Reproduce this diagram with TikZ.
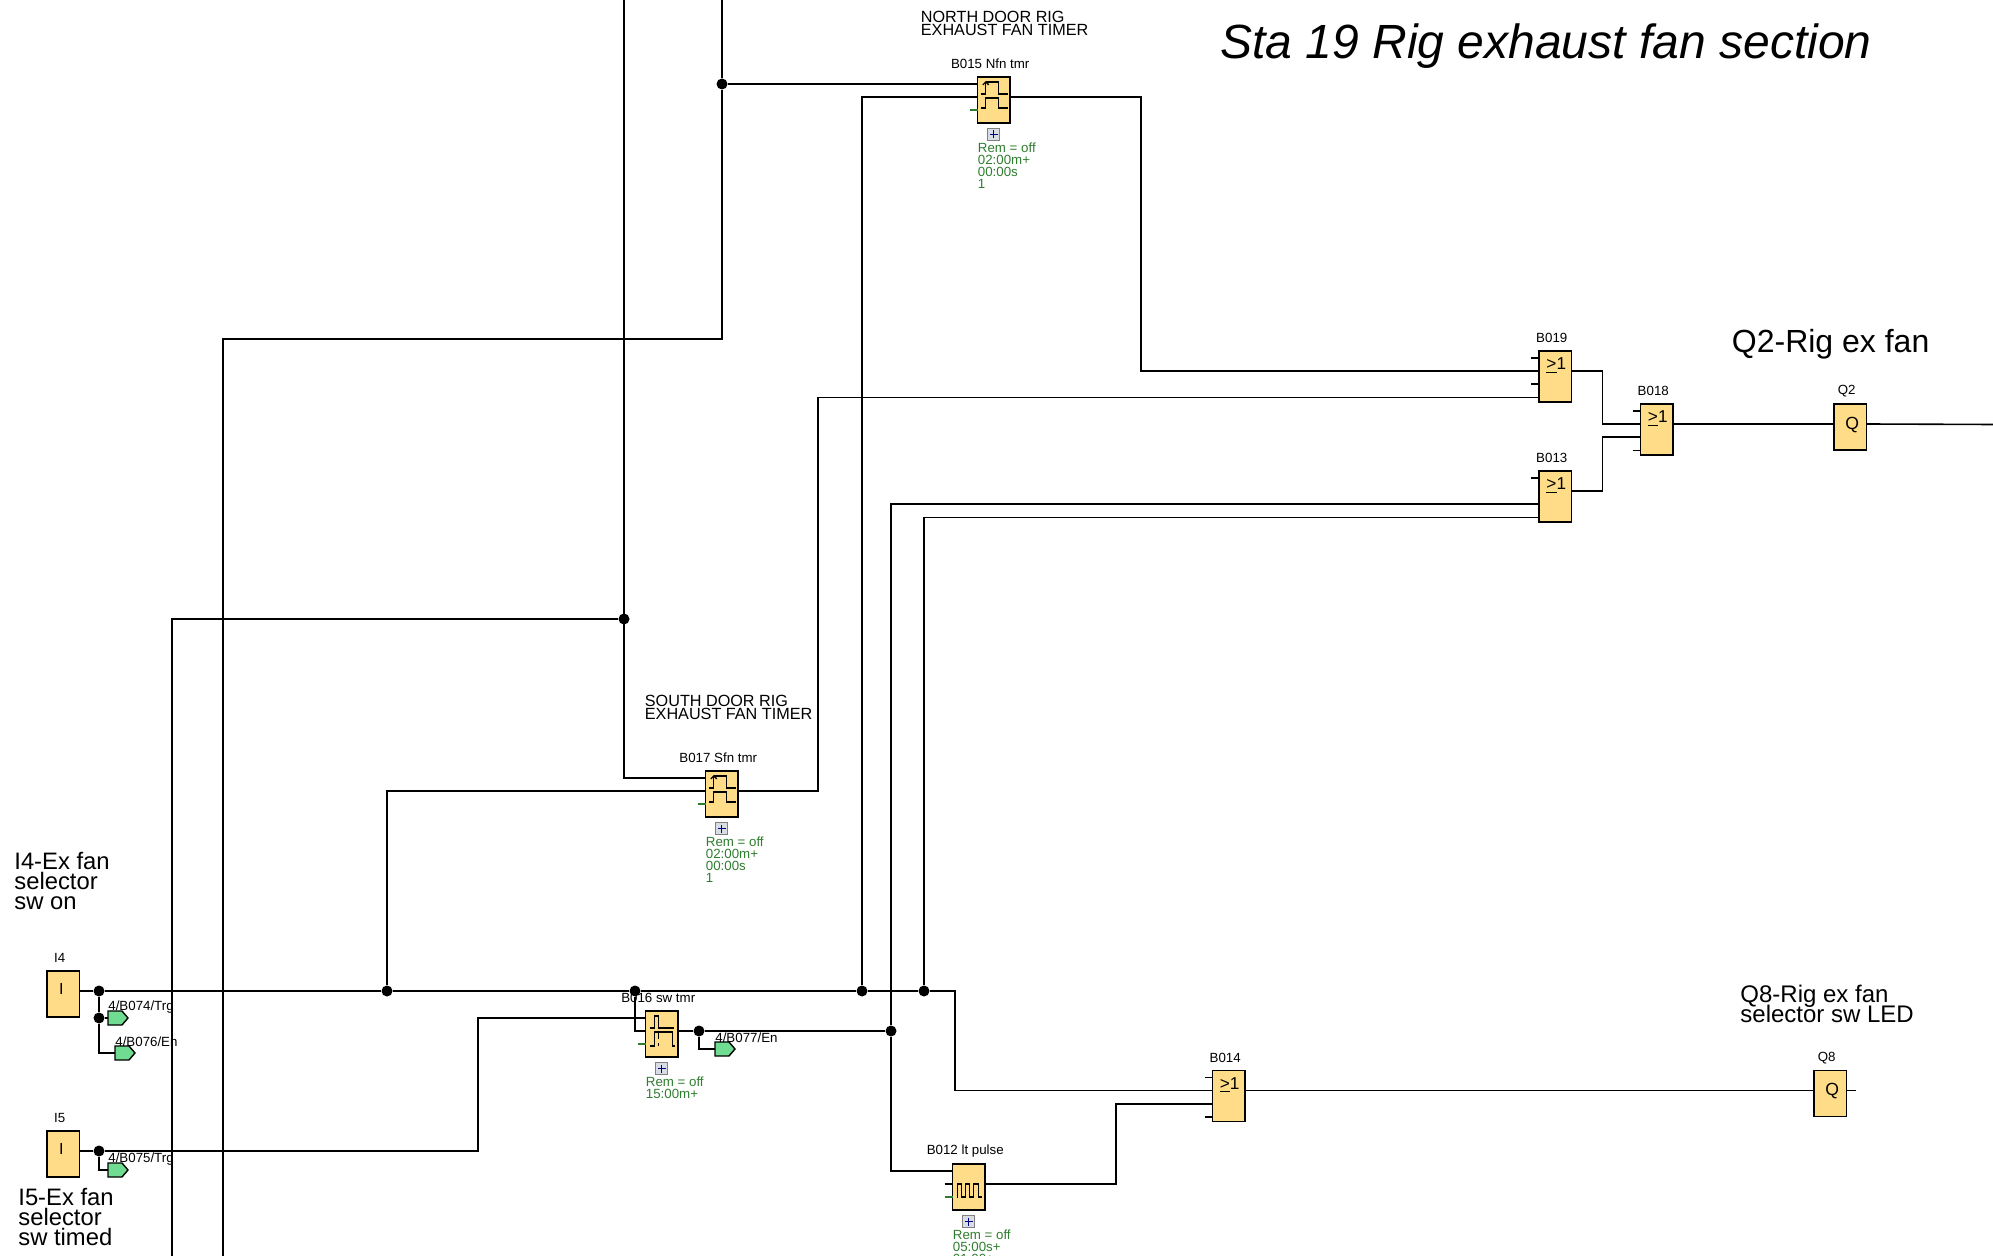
\documentclass[tikz,border=0pt]{standalone}
\usepackage{fontspec}
\setmainfont{Liberation Sans}
\usepackage{xcolor}
\usepackage{tikz}
\usetikzlibrary{calc,arrows.meta}

\definecolor{blockfill}{HTML}{FFDC87}
\definecolor{tagfill}{HTML}{6FDC92}
\definecolor{paramgreen}{HTML}{2E7D2E}
\definecolor{plusgray}{HTML}{D9DDE6}

% one block: name, left x, top y, height, title
\newcommand{\fblock}[5]{%
  \node[blockbox, minimum height=#4*0.5pt] (#1) at (#2+16.25,#3+#4/2) {};
  \node[blocktitle] (#1t) at ([xshift=-1.75pt,yshift=6.4pt]#1.north) {#5};
  \coordinate (#1a) at ([yshift=-3.5pt]#1.north west);
  \coordinate (#1b) at ([yshift=-10pt]#1.north west);
  \coordinate (#1c) at ([yshift=-16.6pt]#1.north west);
  \coordinate (#1d) at ([yshift=-23.3pt]#1.north west);
  \coordinate (#1o) at ([yshift=-10pt]#1.north east);
}
\newcommand{\orsign}[1]{\node[blocksign] (#1s) at ([xshift=0.5pt,yshift=-7.3pt]#1.north) {\underline{>}1};
  \draw[wire] ([xshift=-4pt]#1a) -- (#1a);
  \draw[wire] ([xshift=-4pt]#1c) -- (#1c);
  \draw[wire] ([xshift=-4pt]#1d) -- (#1d);}
% timer extras: plus box, parameters, green pin
\newcommand{\tmrextras}[2]{%
  \node[plusbox] (#1p) at ([yshift=-5.75pt]#1.south) {};
  \draw[plusmark] ([xshift=-2pt]#1p.center) -- ([xshift=2pt]#1p.center);
  \draw[plusmark] ([yshift=-2pt]#1p.center) -- ([yshift=2pt]#1p.center);
  \node[params] (#1r) at ([yshift=-9.5pt]#1.south west) {#2};
  \draw[wire, paramgreen] ([xshift=-4pt]#1c) -- (#1c);
}
\newcommand{\flag}[4]{%
  \coordinate (#1) at (#2,#3);
  \draw[tagbox] (#1) -- ++(0,-7) -- ++(14,0) -- ++(6,7) -- ++(-6,7) -- ++(-14,0) -- cycle;
  \node[taglabel] (#1t) at ([yshift=5.6pt]#1) {#4};
}

\begin{document}
\begin{tikzpicture}[x=0.5pt, y=-0.5pt,
    wire/.style={line width=0.8pt},
    bus/.style={line width=1.3pt},
    icon/.style={line width=0.7pt},
    blockbox/.style={draw, fill=blockfill, line width=0.75pt, minimum width=16.25pt, inner sep=0pt, outer sep=0pt},
    blocktitle/.style={font=\fontsize{6.65}{6}\selectfont, inner sep=0pt},
    blocksign/.style={font=\fontsize{8.6}{8}\selectfont, inner sep=0pt},
    junction/.style={circle, fill=black, inner sep=0pt, minimum size=5.5pt},
    plusbox/.style={draw=gray, fill=plusgray, line width=0.5pt, minimum size=6pt, inner sep=0pt},
    plusmark/.style={draw=blue!50!black, line width=0.6pt},
    params/.style={anchor=north west, align=left, text=paramgreen, inner sep=0pt, font=\fontsize{6.65}{6}\selectfont},
    tagbox/.style={draw, fill=tagfill, line width=0.7pt},
    taglabel/.style={anchor=west, inner sep=0pt, font=\fontsize{6.65}{6}\selectfont},
    note/.style={anchor=north west, align=left, inner sep=0pt, execute at begin node={\lineskiplimit=-6pt}}]
    \useasboundingbox (0,0) rectangle (1993,1256);

    % Free ends at the page edge
    \coordinate (topa) at (722,0);
    \coordinate (topb) at (624,0);
    \coordinate (cornera) at (722,339);
    \coordinate (botl) at (172,1256);
    \coordinate (botr) at (223,1256);
    \coordinate (qout) at (1993,424.5);
    \coordinate (qstub) at (1856,1090.5);

    % Inputs
    \fblock{ifour}{47}{971}{46}{I4}
    \fblock{ifive}{47}{1131}{46}{I5}
    \node[blocksign, font=\fontsize{8}{8}\selectfont] (ifours) at ([xshift=-1pt,yshift=2.5pt]ifour.center) {I};
    \node[blocksign, font=\fontsize{8}{8}\selectfont] (ifives) at ([xshift=-1pt,yshift=2.5pt]ifive.center) {I};

    % North door timer
    \fblock{bnorth}{977.5}{77}{46}{B015 Nfn tmr}
    \tmrextras{bnorth}{Rem = off\\02:00m+\\00:00s\\1}
    \begin{scope}[shift={(bnorth.center)}]
        \draw[icon, -{Straight Barb[length=1.5pt,width=3pt]}] (-8,-6) -- (-8,-19);
        \draw[icon] (-13,-6) -- (-8,-6) (-8,-18) -- (5,-18) -- (5,-6) -- (14,-6);
        \draw[icon] (-13,8) -- (-8,8) -- (-8,-2) -- (5,-2) -- (5,8) -- (14,8);
    \end{scope}
    \node[note, font=\fontsize{8.1}{6.5}\selectfont] (northnote) at (920.5,11) {NORTH DOOR RIG\\EXHAUST FAN TIMER};

    % South door timer
    \fblock{bsouth}{705.5}{771}{46}{B017 Sfn tmr}
    \tmrextras{bsouth}{Rem = off\\02:00m+\\00:00s\\1}
    \begin{scope}[shift={(bsouth.center)}]
        \draw[icon, -{Straight Barb[length=1.5pt,width=3pt]}] (-8,-6) -- (-8,-19);
        \draw[icon] (-13,-6) -- (-8,-6) (-8,-18) -- (5,-18) -- (5,-6) -- (14,-6);
        \draw[icon] (-13,8) -- (-8,8) -- (-8,-2) -- (5,-2) -- (5,8) -- (14,8);
    \end{scope}
    \node[note, font=\fontsize{8.1}{6.5}\selectfont] (southnote) at (644.5,695) {SOUTH DOOR RIG\\EXHAUST FAN TIMER};

    % Selector timer
    \fblock{bsw}{645.5}{1011}{46}{B016 sw tmr}
    \tmrextras{bsw}{Rem = off\\15:00m+}
    \begin{scope}[shift={(bsw.center)}]
        \draw[icon] (-12,-6) -- (-7,-6) -- (-7,-18) -- (-3,-18) -- (-3,-6) -- (12,-6);
        \draw[icon] (-12,12) -- (-7,12) -- (-7,-2) -- (11,-2) -- (11,12) -- (13,12);
        \draw[icon, densely dashed] (-3,-1) -- (-3,12);
    \end{scope}

    % Pulse block
    \fblock{bpulse}{952.5}{1164}{46}{B012 lt pulse}
    \tmrextras{bpulse}{Rem = off\\05:00s+\\01:00+}
    \draw[wire] ([xshift=-4pt]bpulseb) -- (bpulseb);
    \begin{scope}[shift={(bpulse.center)}]
        \draw[icon] (-12,10) -- (-11,10) -- (-11,-3) -- (-7,-3) -- (-7,10) -- (-3,10) -- (-3,-3) -- (1,-3) -- (1,10) -- (5,10) -- (5,-3) -- (10,-3) -- (10,10) -- (13,10);
    \end{scope}

    % OR gates
    \fblock{bnineteen}{1539}{351}{51}{B019}
    \orsign{bnineteen}
    \fblock{bthirteen}{1539}{471}{51}{B013}
    \orsign{bthirteen}
    \fblock{beighteen}{1640.5}{404}{51}{B018}
    \orsign{beighteen}
    \fblock{bfourteen}{1212.5}{1070.5}{51}{B014}
    \orsign{bfourteen}

    % Outputs
    \fblock{qtwo}{1834}{404}{46}{Q2}
    \fblock{qeight}{1814}{1070.5}{46}{Q8}
    \node[blocksign, font=\fontsize{8.8}{8}\selectfont] (qtwos) at ([xshift=1pt,yshift=1pt]qtwo.center) {Q};
    \node[blocksign, font=\fontsize{8.8}{8}\selectfont] (qeights) at ([xshift=1pt,yshift=1pt]qeight.center) {Q};

    % Junctions
    \node[junction] (jtop) at (722,84) {};
    \node[junction] (jsouth) at (624,619) {};
    \node[junction] (jifour) at (99,991) {};
    \node[junction] (jtags) at (99,1018) {};
    \node[junction] (jifive) at (99,1151) {};
    \node[junction] (jbsouth) at (387,991) {};
    \node[junction] (jbsw) at (635,991) {};
    \node[junction] (jbnorth) at (862,991) {};
    \node[junction] (jbthirteen) at (924,991) {};
    \node[junction] (jswout) at (699,1031) {};
    \node[junction] (jpulse) at (891,1031) {};

    % Connection tags
    \flag{tagtrg}{108}{1018}{4/B074/Trg}
    \flag{tagen}{115}{1053}{4/B076/En}
    \flag{tagtimed}{108}{1170}{4/B075/Trg}
    \flag{tagsw}{715}{1049}{4/B077/En}

    % Wires, upper part
    \draw[wire] (topa) -- (jtop) -- (cornera) -- (cornera -| botr) -- (botr);
    \draw[wire] (jtop) -- (bnortha);
    \draw[wire] (topb) |- (bsoutha);
    \draw[wire] (jsouth) -| (botl);
    \draw[wire] (bnortho) -- +(131,0) |- (bnineteenb);
    \draw[wire] (bsoutho) -- +(80,0) |- (bnineteend);
    \draw[wire] (bnineteeno) -- +(31,0) |- (beighteenb);
    \draw[wire] (bthirteeno) -- +(31,0) |- (beighteenc);
    \draw[wire] (beighteeno) -- (qtwob);
    \draw[wire] (qtwoo) -- (qout);

    % Bus from I4
    \draw[wire] (ifouro) -- (jifour);
    \draw[bus] (jifour) -- (jbsouth) -- (jbsw) -- (jbnorth) -- (jbthirteen);
    \draw[bus] (jifour) -- (jtags);
    \draw[wire] (jtags) -- (tagtrg);
    \draw[wire] (jtags) |- (tagen);
    \draw[wire] (jbsouth) |- (bsouthb);
    \draw[wire] (jbsw) |- (bswb);
    \draw[wire] (jbnorth) |- (bnorthb);
    \draw[wire] (jbthirteen) |- (bthirteend);
    \draw[wire] (jbthirteen) -- +(31,0) |- (bfourteenb);

    % I5 and the selector timer
    \draw[wire] (ifiveo) -- (jifive);
    \draw[wire] (jifive) -- +(379,0) |- (bswa);
    \draw[wire] (jifive) |- (tagtimed);
    \draw[wire] (bswo) -- (jswout) -- (jpulse);
    \draw[wire] (jswout) |- (tagsw);
    \draw[wire] (jpulse) |- (bthirteenc);
    \draw[wire] (jpulse) |- (bpulsea);
    \draw[wire] (bpulseo) -- +(131,0) |- (bfourteenc);
    \draw[wire] (bfourteeno) -- (qeightb);
    \draw[wire] (qeighto) -- (qstub);

    % Texts
    \node[anchor=base west, inner sep=0pt, font=\fontsize{24}{24}\selectfont\itshape] (title) at (1220,59) {Sta 19 Rig exhaust fan section};
    \node[anchor=base west, inner sep=0pt, font=\fontsize{16}{16}\selectfont] (qtwonote) at (1731.5,353) {Q2-Rig ex fan};
    \node[note, font=\fontsize{12}{9.8}\selectfont] (qeightnote) at (1740,985) {Q8-Rig ex fan\\selector sw LED};
    \node[note, font=\fontsize{11.9}{10}\selectfont] (ifournote) at (14,852) {I4-Ex fan\\selector\\sw on};
    \node[note, font=\fontsize{11.9}{10}\selectfont] (ifivenote) at (18,1188) {I5-Ex fan\\selector\\sw timed};
\end{tikzpicture}
\end{document}
